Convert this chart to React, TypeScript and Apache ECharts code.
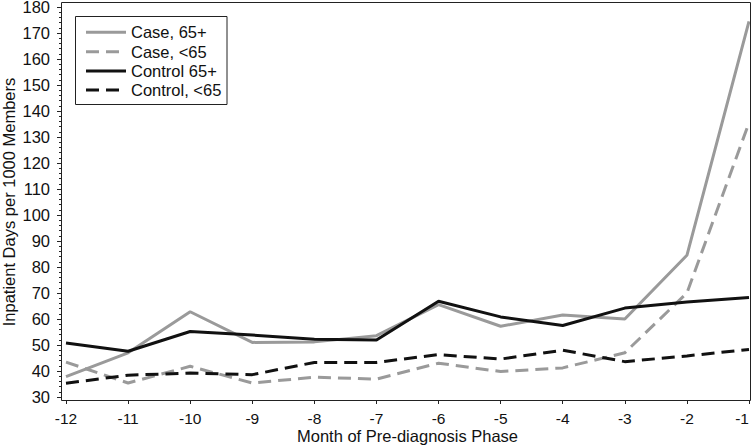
import React, { useEffect, useRef } from "react";
import * as echarts from "echarts";

const months = [-12, -11, -10, -9, -8, -7, -6, -5, -4, -3, -2, -1];
const case65Plus = [37.8, 47.0, 62.8, 51.0, 51.2, 53.6, 65.5, 57.2, 61.5, 60.0, 84.5, 174.5];
const caseUnder65 = [43.4, 35.4, 41.8, 35.4, 37.6, 36.9, 43.0, 39.8, 41.2, 47.0, 70.0, 135.5];
const control65Plus = [50.8, 47.6, 55.2, 53.8, 52.2, 51.9, 66.8, 60.8, 57.5, 64.2, 66.5, 68.3];
const controlUnder65 = [35.3, 38.4, 39.2, 38.6, 43.3, 43.3, 46.3, 44.6, 48.0, 43.6, 45.8, 48.3];
const seriesNames = ["Case, 65+", "Case, <65", "Control 65+", "Control, <65"];

const FONT = "'Liberation Sans', Arial, Helvetica, sans-serif";
const FS = 16.5;
const GREY = "#9a9a9a";
const BLACK = "#111111";
const DASH = [13, 7];

const seriesColors = [GREY, GREY, BLACK, BLACK];
const seriesDashed = [false, true, false, true];

export default function App() {
  const ref = useRef<HTMLDivElement>(null);
  useEffect(() => {
    if (!ref.current) return;
    const chart = echarts.init(ref.current, undefined, { renderer: "svg" });
    const allData = [case65Plus, caseUnder65, control65Plus, controlUnder65];
    const series = seriesNames.map((name, k) => ({
      name,
      type: "line",
      data: months.map((m, i) => [m, allData[k][i]]),
      symbol: "none",
      lineStyle: {
        color: seriesColors[k],
        width: 3,
        type: seriesDashed[k] ? DASH : "solid",
        cap: "butt",
      },
      itemStyle: { color: seriesColors[k] },
    }));

    // custom legend (line samples incl. dash pattern)
    const legendLeft = 75;
    const legendTop = 16;
    const rowY = [32.3, 51.7, 71, 90];
    const legendItems: any[] = [
      {
        type: "rect",
        shape: { x: legendLeft + 0.5, y: legendTop + 0.5, width: 151.5, height: 88 },
        style: { fill: "#fff", stroke: "#222", lineWidth: 1 },
        z: 20,
      },
    ];
    seriesNames.forEach((name, k) => {
      legendItems.push({
        type: "line",
        shape: { x1: 86, y1: rowY[k], x2: 126, y2: rowY[k] },
        style: {
          stroke: seriesColors[k],
          lineWidth: 3,
          lineDash: seriesDashed[k] ? DASH : null,
        },
        z: 21,
      });
      legendItems.push({
        type: "text",
        x: 131,
        y: rowY[k],
        style: {
          text: name,
          fontFamily: FONT,
          fontSize: FS,
          fill: "#111",
          verticalAlign: "middle",
          align: "left",
        },
        z: 21,
      });
    });

    chart.setOption({
      animation: false,
      backgroundColor: "#ffffff",
      textStyle: { fontFamily: FONT },
      grid: { left: 66, right: 4, top: 7, bottom: 48, outerBoundsMode: "none", containLabel: false },
      graphic: [
        {
          type: "rect",
          shape: { x: 61.5, y: 2.5, width: 689, height: 398 },
          style: { fill: "none", stroke: "#222", lineWidth: 1 },
          silent: true,
          z: 10,
        },
        ...legendItems,
      ],
      xAxis: {
        type: "value",
        min: -12,
        max: -1,
        interval: 1,
        offset: 3,
        axisLine: { show: false },
        axisTick: { show: true, length: 4, lineStyle: { color: "#222" } },
        splitLine: { show: false },
        axisLabel: {
          fontFamily: FONT,
          fontSize: 15.5,
          color: "#111",
          margin: 11,
          lineHeight: 14,
          alignMaxLabel: "right",
        },
        name: "Month of Pre-diagnosis Phase",
        nameLocation: "middle",
        nameGap: 29,
        nameMoveOverlap: false,
        nameTextStyle: { fontFamily: FONT, fontSize: FS, color: "#111", lineHeight: 14 },
      },
      yAxis: {
        type: "value",
        min: 30,
        max: 180,
        interval: 10,
        offset: 5,
        axisLine: { show: false },
        axisTick: { show: true, length: 4, lineStyle: { color: "#222" } },
        minorTick: { show: true, splitNumber: 5, length: 2, lineStyle: { color: "#222" } },
        splitLine: { show: false },
        axisLabel: { fontFamily: FONT, fontSize: FS, color: "#111", margin: 11, lineHeight: 13 },
        name: "Inpatient Days per 1000 Members",
        nameLocation: "middle",
        nameGap: 44,
        nameMoveOverlap: false,
        nameTextStyle: { fontFamily: FONT, fontSize: FS, color: "#111" },
      },
      series,
    });
    return () => chart.dispose();
  }, []);
  return <div ref={ref} style={{ width: 753, height: 445, position: "absolute", left: 0, top: 0 }} />;
}
